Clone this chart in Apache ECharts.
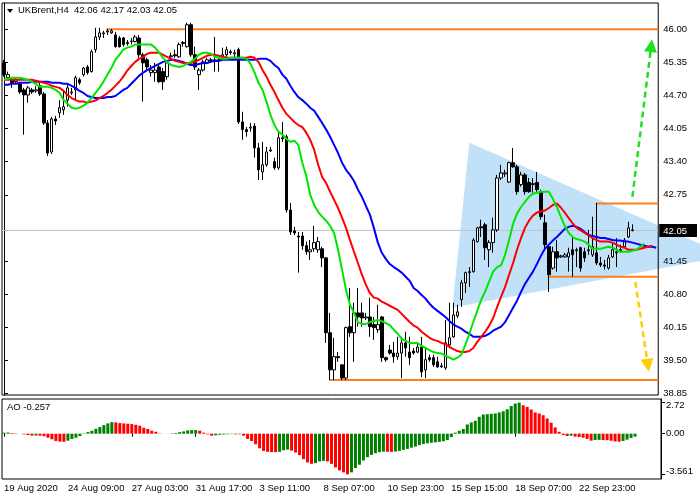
<!DOCTYPE html>
<html><head><meta charset="utf-8">
<script src="https://cdn.jsdelivr.net/npm/echarts@6/dist/echarts.min.js"></script>
<style>html,body{margin:0;padding:0;background:#fff}#c{width:700px;height:500px}</style>
</head><body><div id="c"></div>
<script>
const symbolName = 'UKBrent,H4';
const timeLabels = ['19 Aug 2020','24 Aug 09:00','27 Aug 03:00','31 Aug 17:00','3 Sep 11:00','8 Sep 07:00','10 Sep 23:00','15 Sep 15:00','18 Sep 07:00','22 Sep 23:00'];
const labelStep = 16;
const nSlots = 165;

const open = [45.34,45.05,45.01,44.97,44.93,44.81,44.71,44.81,44.79,44.89,
44.73,44.16,43.59,44.24,44.36,44.42,44.61,44.75,44.81,45.01,
45.11,45.26,45.17,45.60,45.85,45.91,45.95,45.93,45.89,45.83,
45.83,45.74,45.76,45.76,45.83,45.50,45.40,45.15,45.15,45.26,
45.17,45.07,45.46,45.50,45.46,45.72,45.66,46.09,45.50,45.11,
45.20,45.34,45.40,45.38,45.40,45.46,45.50,45.56,45.52,45.60,
44.18,44.03,44.06,44.10,43.67,43.20,43.34,43.61,43.40,43.28,
43.87,43.89,42.45,42.04,41.94,41.94,41.75,41.63,41.69,41.67,
41.69,41.51,40.04,39.31,39.57,39.41,39.15,40.16,40.04,40.43,
40.43,40.33,40.35,40.20,40.10,40.35,39.55,39.70,39.64,39.57,
39.64,39.84,39.66,39.68,39.66,39.76,39.31,39.55,39.55,39.47,
39.37,39.35,39.80,39.96,40.37,40.69,41.02,41.22,41.24,41.83,
42.12,42.16,41.67,41.81,42.06,43.08,43.16,43.00,43.38,43.30,
42.95,43.14,42.99,42.95,42.99,42.81,42.20,41.73,41.31,41.63,
41.53,41.53,41.53,41.67,41.65,41.71,41.63,41.65,41.57,41.61,
41.41,41.37,41.31,41.53,41.61,41.67,41.73,41.92,42.06];
const close = [45.11,45.11,44.95,45.01,44.77,44.71,44.85,44.77,44.81,44.73,
44.16,43.57,44.24,44.20,44.46,44.48,44.85,44.77,45.05,44.95,
45.24,45.15,45.56,45.85,45.93,45.93,45.97,45.97,45.66,45.66,
45.70,45.72,45.77,45.85,45.50,45.34,45.26,45.20,45.20,44.97,
44.97,45.34,45.48,45.48,45.70,45.74,46.09,45.50,45.26,45.20,
45.36,45.40,45.38,45.40,45.38,45.50,45.60,45.54,45.54,44.18,
44.03,43.99,44.08,43.67,43.24,43.34,43.59,43.63,43.28,43.87,
43.85,42.45,42.02,42.00,41.92,41.75,41.63,41.67,41.81,41.83,
41.51,40.04,39.31,39.57,39.55,39.15,40.14,40.04,40.43,40.35,
40.33,40.35,40.16,40.14,40.20,39.55,39.51,39.64,39.57,39.64,
39.84,39.74,39.55,39.64,39.76,39.27,39.51,39.51,39.41,39.37,
39.39,39.84,39.94,40.39,40.45,41.02,41.22,41.24,41.86,42.10,
42.10,41.71,41.81,42.06,43.08,43.18,43.18,43.38,43.30,42.81,
43.14,42.81,42.81,42.97,42.85,42.32,41.77,41.18,41.63,41.51,
41.55,41.57,41.61,41.57,41.67,41.31,41.51,41.67,41.73,41.41,
41.37,41.35,41.51,41.67,41.63,41.65,41.86,42.10,42.05];
const low = [45.07,45.01,44.85,44.93,44.73,43.93,44.56,44.73,44.75,44.69,
44.12,43.51,43.55,44.12,44.26,44.32,44.48,44.71,44.61,44.91,
45.07,45.11,45.15,45.54,45.79,45.83,45.89,45.91,45.64,45.64,
45.66,45.68,45.70,45.74,45.44,44.58,45.20,45.07,44.97,44.95,
44.81,45.01,45.40,45.44,45.44,45.66,45.64,45.46,45.20,44.81,
45.17,45.32,45.34,45.17,45.17,45.44,45.46,45.50,45.44,44.14,
43.83,43.89,43.99,43.48,43.04,43.04,43.30,43.59,43.24,43.24,
43.79,42.40,41.96,41.96,41.22,41.67,41.57,41.47,41.63,41.61,
41.33,39.84,39.11,39.11,39.47,39.11,39.11,39.96,39.47,40.16,
40.16,40.29,39.96,39.90,40.04,39.47,39.47,39.61,39.45,39.51,
39.15,39.57,39.41,39.61,39.64,39.17,39.15,39.47,39.37,39.35,
39.35,39.31,39.74,39.94,40.33,40.55,40.82,40.94,41.22,41.81,
41.92,41.47,41.33,41.61,42.02,43.04,43.10,42.98,43.28,42.75,
42.91,42.75,42.79,42.79,42.79,42.26,41.67,40.84,41.28,41.24,
41.51,41.51,41.24,41.14,41.33,41.24,41.43,41.57,41.53,41.37,
41.33,41.28,41.28,41.51,41.33,41.61,41.71,41.90,42.03];
const high = [45.40,45.17,45.05,45.05,44.97,44.85,44.89,44.85,44.89,44.97,
44.77,44.22,44.28,44.30,44.61,44.81,44.91,44.85,45.09,45.05,
45.26,45.30,45.60,46.03,46.03,45.97,46.01,46.01,45.95,45.87,
45.85,45.79,45.83,45.89,45.89,45.54,45.44,45.30,45.34,45.30,
45.24,45.40,45.54,45.60,45.74,45.77,46.13,46.13,45.66,45.24,
45.40,45.44,45.44,45.85,45.44,45.64,45.66,45.60,45.60,45.64,
44.38,44.08,44.16,44.16,43.77,43.79,43.69,43.69,43.48,43.97,
44.18,43.93,42.59,42.12,42.02,42.02,41.83,41.86,42.14,41.92,
41.73,41.53,40.43,39.94,39.66,39.41,40.16,40.92,40.63,40.92,
40.63,40.43,40.73,40.35,40.59,40.37,39.57,39.80,39.86,39.96,
39.96,40.06,39.96,39.74,39.84,39.96,39.76,39.61,39.61,39.57,
39.45,40.29,40.63,40.63,40.59,41.08,41.24,41.33,41.90,42.12,
42.26,42.20,41.86,42.30,43.14,43.34,43.24,43.40,43.67,43.34,
43.20,43.18,43.08,43.08,43.20,42.85,42.36,41.77,41.73,41.86,
41.57,41.61,41.71,41.92,41.71,41.73,41.71,42.06,42.32,42.59,
41.53,41.47,41.57,41.81,41.90,41.77,41.90,42.22,42.17];

// Alligator lines (jaw blue, teeth red, lips green), read per bar slot incl. forward shift
const jaw = [44.91,44.91,44.93,44.93,44.95,44.95,44.95,44.97,44.97,44.97,
44.97,44.97,44.95,44.95,44.95,44.93,44.93,44.89,44.85,44.79,
44.75,44.69,44.67,44.65,44.65,44.65,44.67,44.67,44.69,44.75,
44.81,44.85,44.93,45.01,45.09,45.15,45.20,45.24,45.28,45.32,
45.36,45.38,45.40,45.40,45.38,45.36,45.32,45.30,45.30,45.32,
45.34,45.34,45.36,45.38,45.38,45.40,45.40,45.40,45.40,45.40,
45.40,45.40,45.40,45.40,45.42,45.42,45.42,45.38,45.30,45.24,
45.11,45.03,44.89,44.77,44.67,44.61,44.54,44.46,44.40,44.28,
44.16,44.03,43.89,43.73,43.57,43.38,43.24,43.14,43.02,42.85,
42.71,42.53,42.36,42.10,41.81,41.61,41.49,41.39,41.33,41.28,
41.22,41.14,41.06,40.92,40.86,40.78,40.71,40.61,40.53,40.47,
40.41,40.35,40.27,40.20,40.16,40.12,40.06,40.02,39.96,39.96,
39.96,39.98,40.02,40.08,40.12,40.16,40.25,40.39,40.53,40.67,
40.84,41.00,41.12,41.24,41.39,41.55,41.69,41.77,41.85,41.92,
42.00,42.08,42.12,42.14,42.12,42.08,42.02,41.96,41.94,41.92,
41.90,41.90,41.88,41.86,41.85,41.85,41.83,41.83,41.81,41.79,
41.77,41.75,41.73,41.73,41.71];
const teeth = [45.01,45.01,45.01,45.01,45.01,45.01,45.01,45.01,44.99,44.97,
44.95,44.93,44.89,44.87,44.85,44.79,44.71,44.65,44.61,44.58,
44.58,44.56,44.58,44.60,44.65,44.69,44.75,44.81,44.89,44.97,
45.07,45.19,45.28,45.36,45.42,45.46,45.52,45.54,45.54,45.54,
45.50,45.46,45.42,45.38,45.36,45.34,45.34,45.34,45.36,45.40,
45.44,45.48,45.50,45.50,45.48,45.46,45.44,45.44,45.44,45.44,
45.44,45.44,45.46,45.44,45.36,45.20,45.07,44.91,44.77,44.61,
44.46,44.34,44.26,44.18,44.12,44.08,43.97,43.83,43.63,43.34,
43.10,42.98,42.81,42.65,42.49,42.30,42.10,41.86,41.63,41.41,
41.18,40.98,40.82,40.73,40.71,40.65,40.61,40.57,40.53,40.49,
40.41,40.33,40.25,40.18,40.14,40.06,40.00,39.94,39.90,39.88,
39.84,39.82,39.76,39.72,39.68,39.66,39.66,39.68,39.74,39.86,
39.96,40.06,40.18,40.33,40.55,40.75,40.94,41.18,41.41,41.67,
41.90,42.10,42.24,42.34,42.40,42.42,42.44,42.49,42.55,42.58,
42.50,42.40,42.29,42.19,42.10,42.05,42.00,41.95,41.90,41.86,
41.83,41.83,41.83,41.81,41.77,41.73,41.71,41.67,41.67,41.67,
41.69,41.71,41.73,41.75];
const lips = [45.01,45.03,45.05,45.05,45.05,45.03,45.01,44.97,44.93,44.87,
44.87,44.87,44.85,44.81,44.75,44.61,44.54,44.46,44.44,44.46,
44.50,44.56,44.65,44.75,44.85,44.97,45.11,45.24,45.40,45.50,
45.60,45.64,45.66,45.70,45.70,45.70,45.70,45.70,45.64,45.54,
45.44,45.36,45.30,45.28,45.26,45.28,45.32,45.36,45.42,45.50,
45.54,45.54,45.52,45.46,45.44,45.42,45.42,45.44,45.44,45.44,
45.44,45.42,45.32,45.15,44.95,44.81,44.58,44.32,44.12,43.99,
43.93,43.85,43.79,43.81,43.73,43.38,43.12,42.75,42.55,42.41,
42.32,42.24,42.14,42.00,41.67,41.28,40.88,40.59,40.43,40.25,
40.21,40.21,40.25,40.27,40.29,40.27,40.23,40.19,40.10,40.02,
39.92,39.88,39.84,39.84,39.84,39.78,39.74,39.70,39.66,39.64,
39.63,39.59,39.55,39.51,39.55,39.61,39.80,40.02,40.25,40.47,
40.69,40.85,41.05,41.24,41.33,41.37,41.57,41.86,42.18,42.38,
42.51,42.61,42.71,42.77,42.79,42.81,42.81,42.81,42.67,42.51,
42.32,42.14,42.00,41.92,41.88,41.86,41.83,41.77,41.69,41.69,
41.69,41.71,41.73,41.71,41.67,41.63,41.63,41.63,41.65,41.67,
41.73,41.79];

// Awesome Oscillator
const ao = [0.09,0.10,0.06,0.03,0.00,-0.06,-0.12,-0.17,-0.16,-0.18,
-0.22,-0.35,-0.49,-0.64,-0.70,-0.71,-0.61,-0.46,-0.35,-0.20,
0.03,0.14,0.26,0.43,0.58,0.75,0.90,1.01,0.99,0.93,
0.90,0.87,0.84,0.78,0.70,0.52,0.41,0.26,0.17,0.03,
0.00,0.01,0.03,0.06,0.14,0.20,0.29,0.31,0.32,0.26,
0.09,-0.06,-0.17,-0.14,-0.09,-0.07,-0.05,-0.03,-0.06,-0.05,
-0.17,-0.46,-0.64,-0.93,-1.28,-1.51,-1.59,-1.61,-1.62,-1.59,
-1.45,-1.39,-1.48,-1.65,-1.88,-2.23,-2.52,-2.64,-2.58,-2.43,
-2.38,-2.43,-2.64,-2.96,-3.22,-3.39,-3.561,-3.39,-3.01,-2.72,
-2.35,-2.06,-1.86,-1.71,-1.62,-1.57,-1.58,-1.59,-1.56,-1.51,
-1.42,-1.33,-1.22,-1.13,-1.01,-0.90,-0.84,-0.79,-0.76,-0.72,
-0.66,-0.55,-0.30,0.09,0.26,0.41,0.81,0.99,1.13,1.48,
1.68,1.71,1.74,1.77,1.86,1.97,2.14,2.43,2.64,2.72,
2.49,2.35,2.12,1.86,1.77,1.62,1.33,0.96,0.55,0.17,
-0.12,-0.20,-0.17,-0.26,-0.29,-0.35,-0.46,-0.61,-0.55,-0.54,
-0.56,-0.57,-0.62,-0.68,-0.70,-0.64,-0.52,-0.38,-0.257];

const priceTicks = [46.00,45.35,44.70,44.05,43.40,42.75,41.45,40.80,40.15,39.50,38.85];
const lastPrice = 42.05;
const aoTicks = [2.72, 0, -3.561];

// drawn objects, in (bar slot, price) units
const levels = [
  { from: 25.75, price: 46.00 },
  { from: 81.75, price: 39.11 },
  { from: 148.75, price: 42.58 },
  { from: 136.75, price: 41.14 }
];
const triangle = [[117.0, 43.77], [112.75, 40.53], [182.0, 41.55]];
const upArrow = [[158.0, 42.71], [162.75, 45.68]];
const downArrow = [[158.75, 41.04], [161.9, 39.40]];

const FONT = '"Liberation Sans", Arial, sans-serif';
const FS = 9.5;
const cats = Array.from({ length: nSlots }, (_, i) => String(i));
const candles = open.map((o, i) => [o, close[i], low[i], high[i]]);
const aoData = ao.map((v, i) => ({ value: v, itemStyle: { color: (i === 0 || v > ao[i - 1]) ? '#008000' : '#ff0000' } }));
const showTime = (i) => i % labelStep === 0 && i / labelStep < timeLabels.length;
const last = open.length - 1;
const header = symbolName + '  ' + [open[last], high[last], low[last], close[last]].map(v => v.toFixed(2)).join(' ');
const aoMax = Math.max(...aoTicks), aoMin = Math.min(...aoTicks);

const chart = echarts.init(document.getElementById('c'), null, { renderer: 'canvas' });
const series = [];
series.push({
  type: 'custom', xAxisIndex: 1, yAxisIndex: 0, z: -1, clip: false, silent: true,
  data: [triangle[0]],
  renderItem: (params, api) => ({
    type: 'polygon',
    shape: { points: triangle.map(p => api.coord(p)) },
    style: { fill: '#c1e1f9' }
  })
});
series.push({
  type: 'line', xAxisIndex: 1, yAxisIndex: 0, z: 1, symbol: 'none', silent: true,
  data: [[-0.5, lastPrice], [nSlots - 0.5, lastPrice]],
  lineStyle: { color: '#c0c0c0', width: 1 }
});
levels.forEach(l => series.push({
  type: 'line', xAxisIndex: 1, yAxisIndex: 0, z: 2, symbol: 'none', silent: true,
  data: [[l.from, l.price], [nSlots - 0.5, l.price]],
  lineStyle: { color: '#ff7f1f', width: 2 }
}));
series.push({
  type: 'candlestick', xAxisIndex: 0, yAxisIndex: 0, z: 3, barWidth: 3,
  data: candles,
  itemStyle: { color: '#ffffff', color0: '#000000', borderColor: '#000000', borderColor0: '#000000', borderWidth: 1 }
});
[[jaw, '#0000ff'], [teeth, '#ff0000'], [lips, '#00e600']].forEach(([d, c]) => series.push({
  type: 'line', xAxisIndex: 0, yAxisIndex: 0, z: 4, showSymbol: false, symbol: 'none', silent: true,
  data: d, lineStyle: { color: c, width: 2 }
}));
[[upArrow, '#1ee01e'], [downArrow, '#ffcc00']].forEach(([a, c]) => series.push({
  type: 'lines', coordinateSystem: 'cartesian2d', xAxisIndex: 1, yAxisIndex: 0, z: 5, silent: true,
  symbol: ['none', 'triangle'], symbolSize: 13,
  lineStyle: { color: c, width: 2.5, type: [6, 4], opacity: 1 },
  data: [{ coords: a }]
}));
series.push({
  type: 'bar', xAxisIndex: 2, yAxisIndex: 1, barWidth: 3, silent: true,
  data: aoData
});

chart.setOption({
  animation: false,
  backgroundColor: '#ffffff',
  grid: [
    { left: 2, right: 39, top: 3, height: 392, show: true, borderColor: '#000', borderWidth: 1, backgroundColor: 'transparent' },
    { left: 2, right: 39, top: 399, height: 80, show: true, borderColor: '#000', borderWidth: 1, backgroundColor: 'transparent' }
  ],
  xAxis: [
    { type: 'category', gridIndex: 0, data: cats, boundaryGap: true,
      axisLine: { show: false }, axisTick: { show: false }, axisLabel: { show: false }, splitLine: { show: false } },
    { type: 'value', gridIndex: 0, min: -0.5, max: nSlots - 0.5, show: false },
    { type: 'category', gridIndex: 1, data: cats, boundaryGap: true,
      axisLine: { show: false },
      axisTick: { show: true, alignWithLabel: true, interval: (i) => showTime(i), length: 3, lineStyle: { color: '#000' } },
      axisLabel: { interval: (i) => showTime(i), formatter: (v) => { const i = Number(v); return showTime(i) ? timeLabels[i / labelStep] : ''; },
        align: 'left', margin: 4, fontSize: FS, fontFamily: FONT, color: '#000' },
      splitLine: { show: false } }
  ],
  yAxis: [
    { type: 'value', gridIndex: 0, position: 'right', min: 38.817, max: 46.517, scale: true,
      splitLine: { show: false },
      axisLine: { show: true, lineStyle: { color: '#000' } },
      axisTick: { show: true, customValues: priceTicks.concat([lastPrice]), length: 4, lineStyle: { color: '#000' } },
      axisLabel: { customValues: priceTicks.concat([lastPrice]), margin: 1,
        formatter: (v) => Math.abs(v - lastPrice) < 1e-9 ? '{cur|' + v.toFixed(2) + '}' : '{n|' + v.toFixed(2) + '}',
        rich: {
          n: { fontSize: FS, fontFamily: FONT, color: '#000', padding: [0, 0, 0, 4] },
          cur: { fontSize: FS, fontFamily: FONT, color: '#fff', backgroundColor: '#000', padding: [2, 10, 1, 4] }
        } } },
    { type: 'value', gridIndex: 1, position: 'right', min: -3.97, max: 3.04,
      splitLine: { show: false },
      axisLine: { show: true, lineStyle: { color: '#000' } },
      axisTick: { show: true, customValues: aoTicks, length: 4, lineStyle: { color: '#000' } },
      axisLabel: { customValues: aoTicks, margin: 1,
        formatter: (v) => { const t = v === 0 ? '0.00' : String(v); const k = v === aoMax ? 'dn' : (v === aoMin ? 'up' : 'n'); return '{' + k + '|' + t + '}'; },
        rich: {
          n: { fontSize: FS, fontFamily: FONT, color: '#000', padding: [0, 0, 0, 4] },
          dn: { fontSize: FS, fontFamily: FONT, color: '#000', padding: [6, 0, 0, 4] },
          up: { fontSize: FS, fontFamily: FONT, color: '#000', padding: [0, 0, 5, 4] }
        } } }
  ],
  graphic: [
    { type: 'polygon', shape: { points: [[7, 9], [13, 9], [10, 13]] }, style: { fill: '#000' } },
    { type: 'text', left: 18, top: 5, style: { text: header, font: FS + 'px ' + FONT, fill: '#000' } },
    { type: 'text', left: 7, top: 402, style: { text: 'AO ' + ao[ao.length - 1], font: FS + 'px ' + FONT, fill: '#000' } }
  ],
  series: series
});
</script>
</body></html>
